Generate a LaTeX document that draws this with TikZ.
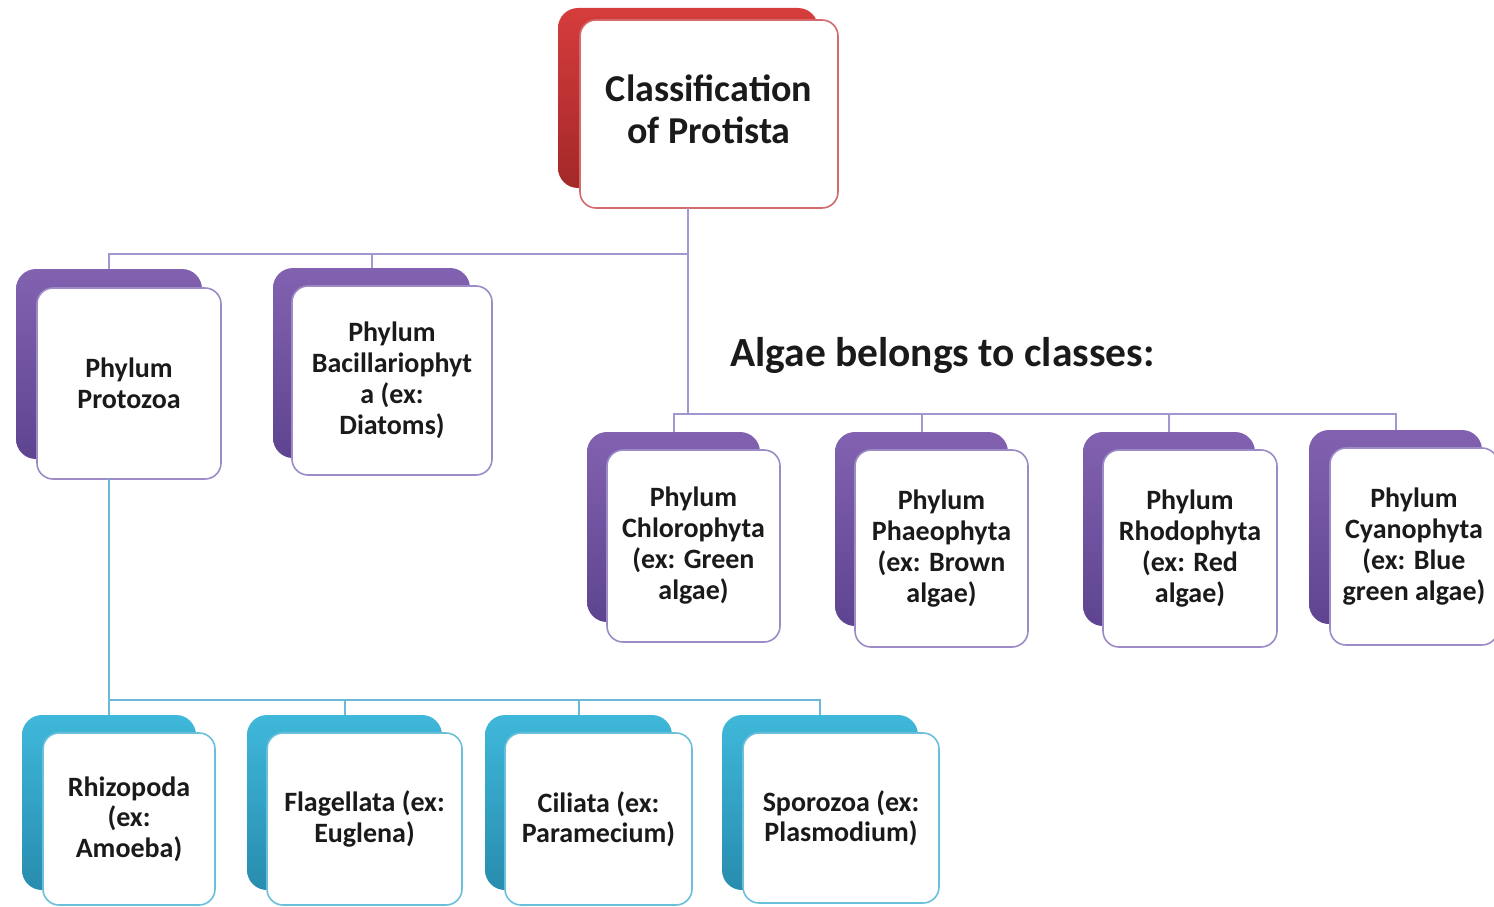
\documentclass[tikz,border=0pt]{standalone}
\usepackage{fontspec}
\setmainfont{Carlito}
\definecolor{redA}{HTML}{D63C3C}
\definecolor{redB}{HTML}{A32828}
\definecolor{purA}{HTML}{8262B0}
\definecolor{purB}{HTML}{5E4490}
\definecolor{cyaA}{HTML}{3FB8DA}
\definecolor{cyaB}{HTML}{288CAE}
\definecolor{redE}{HTML}{D46A6E}
\definecolor{purE}{HTML}{9C8BC6}
\definecolor{cyaE}{HTML}{6AC0DA}
\definecolor{pline}{HTML}{A397CF}
\definecolor{cline}{HTML}{6BB9D6}
\definecolor{ink}{HTML}{1A1A1A}
\tikzset{
  backbox/.style 2 args={top color=#1, bottom color=#2, draw=none, rounded corners=20pt,
    anchor=north west, inner sep=0pt, outer sep=0pt},
  frontbox/.style={draw=#1, fill=white, rounded corners=16pt, line width=1.6pt,
    anchor=north west, inner sep=0pt, outer sep=0pt, align=center, text=ink},
  midtext/.style={font=\fontsize{28}{31}\selectfont\bfseries},
  lowtext/.style={font=\fontsize{28}{30.5}\selectfont\bfseries},
  pconn/.style={draw=pline, line width=2pt},
  cconn/.style={draw=cline, line width=2pt},
}
\begin{document}
\begin{tikzpicture}[x=1pt,y=-1pt]
\useasboundingbox (0,0) rectangle (1494,907);
\clip (0,0) rectangle (1494,907);
% top
\node[backbox={redA}{redB}, minimum width=260pt, minimum height=180pt] (clsb) at (558,8) {};
\node[frontbox=redE, minimum width=258pt, minimum height=188pt] (cls) at (580,20) {};
\node[inner sep=0pt, align=center, text=ink, font=\fontsize{38}{42}\selectfont\bfseries]
  (clst) at ([yshift=5pt]cls.center) {Classification\\of Protista};
% purple level
\node[backbox={purA}{purB}, minimum width=186pt, minimum height=190pt] (pzb) at (16,269) {};
\node[frontbox=purE, midtext, minimum width=184pt, minimum height=191pt] (pz) at (37,288) {Phylum\\Protozoa};
\node[backbox={purA}{purB}, minimum width=197pt, minimum height=190pt] (bab) at (273,268) {};
\node[frontbox=purE, midtext, minimum width=200pt, minimum height=189pt] (ba) at (292,286) {Phylum\\Bacillariophyt\\a (ex:\\Diatoms)};
% algae header
\node[anchor=base west, inner sep=0pt, text=ink, font=\fontsize{41.5}{45}\selectfont\bfseries] (alg) at (730,366) {Algae belongs to classes:};
% algae boxes
\node[backbox={purA}{purB}, minimum width=173pt, minimum height=190pt] (chb) at (587,432) {};
\node[frontbox=purE, midtext, minimum width=173pt, minimum height=192pt] (ch) at (607,450) {Phylum\\Chlorophyta\\(ex: Green\\algae)};
\node[backbox={purA}{purB}, minimum width=173pt, minimum height=194pt] (phb) at (835,432) {};
\node[frontbox=purE, midtext, minimum width=173pt, minimum height=197pt] (ph) at (855,450) {Phylum\\Phaeophyta\\(ex: Brown\\algae)};
\node[backbox={purA}{purB}, minimum width=172pt, minimum height=194pt] (rhb) at (1083,432) {};
\node[frontbox=purE, midtext, minimum width=174pt, minimum height=197pt] (rh) at (1103,450) {Phylum\\Rhodophyta\\(ex: Red\\algae)};
\node[backbox={purA}{purB}, minimum width=173pt, minimum height=194pt] (cyb) at (1309,430) {};
\node[frontbox=purE, midtext, minimum width=168pt, minimum height=197pt] (cy) at (1330,448) {Phylum\\Cyanophyta\\(ex: Blue\\green algae)};
% cyan boxes
\node[backbox={cyaA}{cyaB}, minimum width=174pt, minimum height=175pt] (rzb) at (22,715) {};
\node[frontbox=cyaE, lowtext, minimum width=172pt, minimum height=172pt] (rz) at (43,733) {Rhizopoda\\(ex:\\Amoeba)};
\node[backbox={cyaA}{cyaB}, minimum width=195pt, minimum height=175pt] (flb) at (247,715) {};
\node[frontbox=cyaE, lowtext, minimum width=195pt, minimum height=172pt] (fl) at (267,733) {Flagellata (ex:\\Euglena)};
\node[backbox={cyaA}{cyaB}, minimum width=187pt, minimum height=175pt] (cib) at (485,715) {};
\node[frontbox=cyaE, lowtext, minimum width=187pt, minimum height=172pt] (ci) at (505,733) {Ciliata (ex:\\Paramecium)};
\node[backbox={cyaA}{cyaB}, minimum width=196pt, minimum height=175pt] (spb) at (722,715) {};
\node[frontbox=cyaE, lowtext, minimum width=196pt, minimum height=170pt] (sp) at (743,733) {Sporozoa (ex:\\Plasmodium)};
% junctions
\coordinate (jtop) at (688,254);
\coordinate (jalg) at (688,414);
\coordinate (jlow) at (108,700);
% purple connectors
\draw[pconn] (cls.south -| jtop) -- (jalg);
\draw[pconn] (pzb.north) |- (jtop);
\draw[pconn] (bab.north) -- (bab.north |- jtop);
\draw[pconn] (chb.north) |- (cyb.north |- jalg) -- (cyb.north);
\draw[pconn] (phb.north) -- (phb.north |- jalg);
\draw[pconn] (rhb.north) -- (rhb.north |- jalg);
% cyan connectors
\draw[cconn] (pz.south -| rzb.north) -- (rzb.north);
\draw[cconn] (rzb.north |- jlow) -| (spb.north);
\draw[cconn] (flb.north) -- (flb.north |- jlow);
\draw[cconn] (cib.north) -- (cib.north |- jlow);
\end{tikzpicture}
\end{document}
